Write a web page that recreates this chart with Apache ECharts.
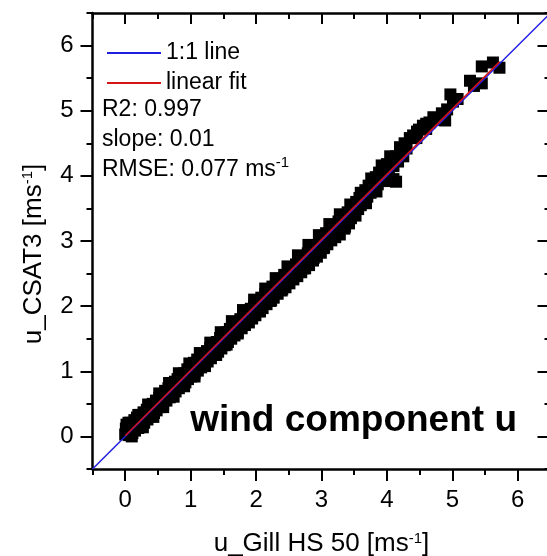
<!DOCTYPE html>
<html><head><meta charset="utf-8">
<script src="https://cdn.jsdelivr.net/npm/echarts@6/dist/echarts.min.js"></script>
<style>html,body{margin:0;padding:0;background:#fff}#c{width:547px;height:556px}</style>
</head><body><div id="c"></div>
<script>
// u from Gill HS 50 (x) and u from CSAT3 (y), m/s
const uGill = [
0.00,0.01,0.03,0.02,0.05,0.06,0.08,0.09,0.11,0.12,0.14,0.15,0.17,0.18,0.20,0.22,0.23,0.25,0.26,0.28,0.29,0.31,0.33,0.34,0.36,0.37,0.39,0.40,0.42,0.44,0.45,0.47,0.48,0.50,0.52,0.53,0.55,0.56,0.58,0.60,0.61,0.63,0.64,0.66,0.68,0.69,0.71,0.72,0.74,0.76,0.77,0.79,0.80,0.82,0.84,0.85,0.87,0.88,0.90,0.92,0.93,0.95,0.96,0.98,
1.00,1.01,1.03,1.05,1.06,1.08,1.10,1.11,1.13,1.15,1.16,1.18,1.20,1.21,1.23,1.25,1.26,1.28,1.30,1.31,1.33,1.35,1.36,1.38,1.40,1.42,1.43,1.45,1.47,1.48,1.50,1.52,1.54,1.55,1.57,1.59,1.60,1.62,1.64,1.65,1.67,1.69,1.71,1.72,1.74,1.76,1.78,1.79,1.81,1.83,1.85,1.86,1.88,1.90,1.92,1.94,1.95,1.97,1.99,
2.01,2.03,2.05,2.07,2.08,2.10,2.12,2.14,2.16,2.18,2.20,2.22,2.24,2.25,2.27,2.29,2.31,2.33,2.35,2.37,2.39,2.41,2.43,2.45,2.47,2.49,2.51,2.53,2.55,2.57,2.59,2.61,2.63,2.65,2.67,2.69,2.71,2.73,2.75,2.77,2.79,2.81,2.83,2.85,2.87,2.89,2.91,2.93,2.95,2.97,2.99,
3.01,3.03,3.05,3.07,3.09,3.11,3.13,3.15,3.17,3.19,3.21,3.24,3.26,3.28,3.30,3.32,3.35,3.37,3.40,3.42,3.45,3.47,3.48,3.51,3.53,3.56,3.58,3.60,3.62,3.64,3.67,3.70,3.72,3.75,3.78,3.80,3.83,3.86,3.88,3.91,3.94,3.97,4.00,4.03,4.06,4.10,4.14,4.10,
4.14,4.17,4.22,4.27,4.30,4.35,4.40,4.46,4.49,4.55,4.60,4.65,4.71,4.76,4.84,4.89,4.92,4.97,5.01,5.08,5.27,5.33,5.45,5.45,5.62,5.72,
0.05,0.10,0.20,0.27,0.35,0.43,0.52,0.58,0.67,0.74,0.82,0.90,0.98,1.06,1.14,1.22,1.30,1.39,1.46,1.55,1.63,1.72,1.80,1.89,1.97,2.06,2.14,2.23,2.30,2.40,2.48,2.56,2.64,2.72,2.80,2.88,2.96,3.04,3.12,3.20,3.28,3.36,3.44,3.52,3.60,3.68,3.76,3.84,3.92,4.00,4.05,4.20,4.25,4.45,4.60
];
const uCsat = [
0.03,0.12,0.07,0.18,0.15,0.02,0.21,0.10,0.05,0.17,0.25,0.09,0.20,0.29,0.13,0.24,0.33,0.18,0.29,0.37,0.21,0.32,0.41,0.26,0.36,0.45,0.31,0.40,0.50,0.36,0.46,0.55,0.40,0.51,0.59,0.45,0.55,0.64,0.50,0.61,0.70,0.55,0.65,0.74,0.60,0.69,0.79,0.64,0.74,0.84,0.69,0.80,0.88,0.74,0.84,0.93,0.79,0.89,0.97,0.83,0.94,1.03,0.88,0.98,
1.08,0.92,1.03,1.13,0.97,1.07,1.18,1.01,1.12,1.22,1.06,1.17,1.26,1.11,1.21,1.31,1.15,1.26,1.36,1.20,1.31,1.41,1.25,1.35,1.45,1.30,1.40,1.51,1.35,1.45,1.56,1.40,1.50,1.60,1.45,1.55,1.65,1.50,1.60,1.70,1.55,1.64,1.75,1.60,1.69,1.80,1.66,1.75,1.86,1.71,1.80,1.90,1.76,1.85,1.96,1.81,1.91,2.01,1.86,
1.97,2.08,1.92,2.02,2.13,1.97,2.06,2.19,2.03,2.12,2.24,2.08,2.18,2.30,2.13,2.22,2.36,2.19,2.27,2.42,2.24,2.33,2.48,2.29,2.38,2.53,2.35,2.43,2.60,2.41,2.49,2.64,2.46,2.55,2.70,2.52,2.60,2.75,2.58,2.66,2.81,2.63,2.72,2.86,2.70,2.78,2.92,2.76,2.84,2.98,2.82,
3.05,2.89,2.97,3.12,2.95,3.04,3.18,3.01,3.10,3.24,3.06,3.15,3.30,3.10,3.21,3.36,3.19,3.28,3.44,3.27,3.35,3.40,3.52,3.43,3.60,3.49,3.66,3.55,3.71,3.62,3.78,3.68,3.85,3.74,3.92,3.80,3.98,3.87,4.05,3.95,4.12,4.03,4.18,4.08,4.25,3.95,3.91,4.15,
4.30,4.22,4.40,4.50,4.42,4.58,4.62,4.68,4.71,4.77,4.80,4.82,4.90,4.86,4.96,4.85,5.02,5.25,5.14,5.18,5.46,5.38,5.42,5.68,5.74,5.66,
0.21,0.00,0.33,0.14,0.49,0.30,0.66,0.45,0.82,0.61,0.97,0.77,1.12,0.92,1.28,1.08,1.44,1.25,1.60,1.41,1.77,1.58,1.94,1.75,2.10,1.92,2.27,2.09,2.43,2.26,2.61,2.42,2.78,2.58,2.94,2.74,3.09,2.90,3.26,3.06,3.41,3.22,3.56,3.39,3.74,3.58,3.96,3.76,4.16,3.92,4.30,4.44,4.30,4.58,4.72
];
const oneToOneX = [-0.5, 6.5];
const oneToOneY = [-0.5, 6.5];
const fitX = [0.00, 5.72];
const fitY = [0.01, 5.75];
const majorTicks = [0, 1, 2, 3, 4, 5, 6];
const minorTicks = [-0.5, 0.5, 1.5, 2.5, 3.5, 4.5, 5.5, 6.5];
const statLines = ['R2: 0.997', 'slope: 0.01', 'RMSE: 0.077 ms{sup|-1}'];
const xTitle = 'u_Gill HS 50 [ms{sup|-1}]';
const yTitle = 'u_CSAT3 [ms{sup|-1}]';
const panelLabel = 'wind component u';

const FONT = "'Liberation Sans', Arial, Helvetica, sans-serif";
const AXMIN = -0.5, AXMAX = 6.5;
const supRich = { sup: { fontSize: 15, fontFamily: FONT, color: '#000', verticalAlign: 'top', lineHeight: 14 } };

function axisCommon(extra) {
  return Object.assign({
    type: 'value', min: AXMIN, max: AXMAX, splitLine: { show: false },
    axisLine: { show: true, onZero: false, lineStyle: { color: '#000', width: 2.5 } },
    axisLabel: { show: false },
    nameMoveOverlap: false
  }, extra);
}
function majorAxis(pos, inside, tickLen, withLabels, extra) {
  const o = {
    position: pos,
    axisTick: { show: true, inside: inside, length: tickLen, customValues: majorTicks, lineStyle: { color: '#000', width: 2 } },
    axisLabel: withLabels ? { show: true, customValues: majorTicks, fontSize: 24, fontFamily: FONT, color: '#000', margin: 19 } : { show: false }
  };
  return axisCommon(Object.assign(o, extra || {}));
}
function minorAxis(pos, inside) {
  return axisCommon({
    position: pos,
    axisLine: { show: false, onZero: false },
    axisTick: { show: true, inside: inside, length: 6, customValues: minorTicks, lineStyle: { color: '#000', width: 2 } }
  });
}

const xMain = majorAxis('bottom', false, 12, true, {
  name: xTitle, nameLocation: 'middle', nameGap: 62,
  nameTextStyle: { fontSize: 26, fontFamily: FONT, color: '#000', rich: supRich }
});
const yMain = majorAxis('left', false, 12, true, {
  name: yTitle, nameLocation: 'middle', nameGap: 46,
  nameTextStyle: { fontSize: 26, fontFamily: FONT, color: '#000', rich: supRich, padding: [0, 26, 0, 0] }
});

const chart = echarts.init(document.getElementById('c'), null, { renderer: 'canvas' });
chart.setOption({
  animation: false,
  backgroundColor: '#fff',
  grid: { left: 92.5, top: 13, width: 458, height: 456, outerBoundsMode: 'none', containLabel: false },
  xAxis: [xMain, minorAxis('bottom', false), majorAxis('top', true, 11, false), minorAxis('top', true)],
  yAxis: [yMain, minorAxis('left', false), majorAxis('right', true, 13, false), minorAxis('right', true)],
  legend: {
    show: true, data: ['1:1 line', 'linear fit'], orient: 'vertical', left: 101, top: 36,
    itemWidth: 54, itemHeight: 24, itemGap: 6,
    itemStyle: { opacity: 0 },
    textStyle: { fontSize: 23, fontFamily: FONT, color: '#000', lineHeight: 24 }
  },
  graphic: [
    { type: 'text', left: 102, top: 95, silent: true,
      style: { text: statLines.join('\n'), font: '23px ' + FONT, fill: '#000', lineHeight: 30,
        rich: { sup: { fontSize: 15, fontFamily: FONT, fill: '#000', verticalAlign: 'top', lineHeight: 16 } } } },
    { type: 'text', right: 30, top: 402, silent: true,
      style: { text: panelLabel, font: 'bold 37px ' + FONT, fill: '#000' } }
  ],
  series: [
    { type: 'scatter', name: 'data', xAxisIndex: 0, yAxisIndex: 0, symbol: 'rect', symbolSize: 12,
      itemStyle: { color: '#000', opacity: 1 }, data: uGill.map((x, i) => [x, uCsat[i]]), z: 2 },
    { type: 'line', name: '1:1 line', xAxisIndex: 0, yAxisIndex: 0, symbol: 'none',
      lineStyle: { color: '#1f1fe0', width: 1.5 }, itemStyle: { color: '#1f1fe0' },
      data: oneToOneX.map((x, i) => [x, oneToOneY[i]]), z: 3 },
    { type: 'line', name: 'linear fit', xAxisIndex: 0, yAxisIndex: 0, symbol: 'none',
      lineStyle: { color: '#d41515', width: 1.5 }, itemStyle: { color: '#d41515' },
      data: fitX.map((x, i) => [x, fitY[i]]), z: 4 }
  ]
});
</script></body></html>
